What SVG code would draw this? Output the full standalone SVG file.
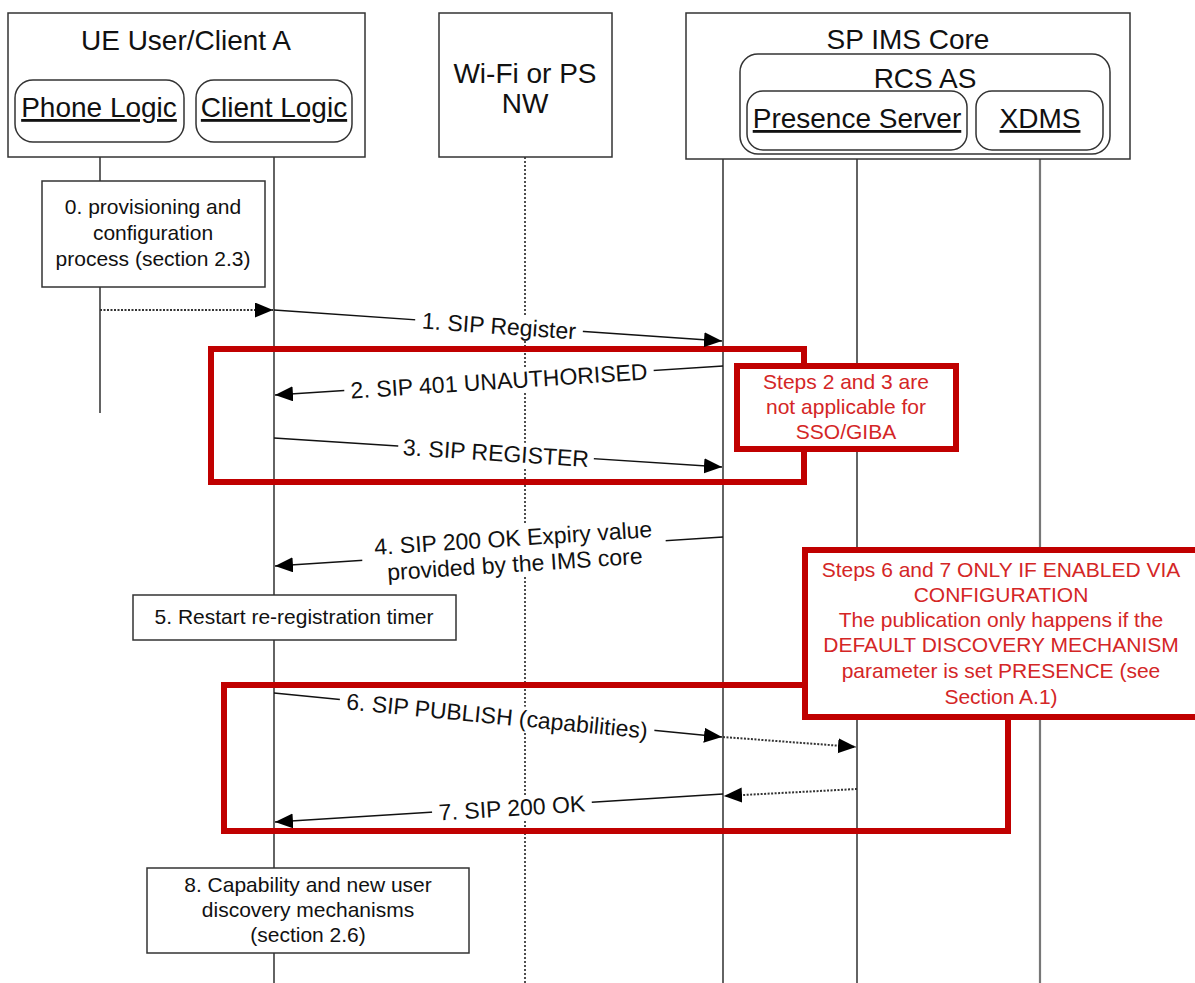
<svg xmlns="http://www.w3.org/2000/svg" width="1195" height="983" viewBox="0 0 1195 983">
<style>
text{font-family:"Liberation Sans",Arial,sans-serif;fill:#111;text-anchor:middle}
.hd{font-size:28px}
.ul{text-decoration:underline}
.lbl{font-size:23px}
.bx{font-size:21px}
.rt{font-size:21px;fill:#d42626}
.box{fill:#fff;stroke:#333;stroke-width:1.5}
.rbox{fill:#fff;stroke:#333;stroke-width:1.5}
.life{stroke:#222;stroke-width:1.4;fill:none}
.dot{stroke:#222;stroke-width:1.6;stroke-dasharray:2 2;fill:none}
.msg{stroke:#111;stroke-width:1.4;fill:none;marker-end:url(#ah)}
.dmsg{stroke:#333;stroke-width:2;stroke-dasharray:2 1.5;fill:none;marker-end:url(#ah)}
.frame{fill:none;stroke:#c00000;stroke-width:6}
.note{fill:#fff;stroke:#c00000;stroke-width:6}
.bg{fill:#fff}
</style>
<defs>
<marker id="ah" markerUnits="userSpaceOnUse" markerWidth="20" markerHeight="16" refX="18" refY="7.5" orient="auto">
<path d="M0,0 L18,7.5 L0,15 z" fill="#000"/>
</marker>
</defs>
<rect width="1195" height="983" fill="#fff"/>

<g id="lifelines">
<line class="life" x1="100" y1="142" x2="100" y2="413"/>
<line class="life" x1="274" y1="142" x2="274" y2="983"/>
<line class="dot" x1="525" y1="157" x2="525" y2="983"/>
<line class="life" x1="723" y1="159" x2="723" y2="983"/>
<line class="life" x1="857" y1="150" x2="857" y2="983"/>
<line x1="1040" y1="150" x2="1040" y2="983" stroke="#777" stroke-width="2.2"/>
</g>

<g id="ue">
<rect class="box" x="8" y="13" width="357" height="144"/>
<text class="hd" x="186" y="50">UE User/Client A</text>
<g id="phone-logic">
<rect class="rbox" x="15" y="80" width="169" height="62" rx="18"/>
<text class="hd ul" x="99" y="117">Phone Logic</text>
</g>
<g id="client-logic">
<rect class="rbox" x="196" y="80" width="156" height="62" rx="18"/>
<text class="hd ul" x="274" y="117">Client Logic</text>
</g>
</g>

<g id="wifi">
<rect class="box" x="439" y="13" width="173" height="144"/>
<text class="hd" x="525" y="83">Wi-Fi or PS</text>
<text class="hd" x="525" y="113">NW</text>
</g>

<g id="ims">
<rect class="box" x="686" y="13" width="444" height="146"/>
<text class="hd" x="908" y="49">SP IMS Core</text>
<g id="rcs-as">
<rect class="rbox" x="740" y="54" width="370" height="100" rx="18"/>
<text class="hd" x="925" y="88">RCS AS</text>
</g>
<g id="presence">
<rect class="rbox" x="747" y="91" width="220" height="59" rx="16"/>
<text class="hd ul" x="857" y="128">Presence Server</text>
</g>
<g id="xdms">
<rect class="rbox" x="976" y="91" width="127" height="59" rx="16"/>
<text class="hd ul" x="1040" y="128">XDMS</text>
</g>
</g>

<g id="step0">
<rect class="box" x="42" y="181" width="223" height="106"/>
<text class="bx" x="153" y="214">0. provisioning and</text>
<text class="bx" x="153" y="240">configuration</text>
<text class="bx" x="153" y="266">process (section 2.3)</text>
</g>

<g id="step5">
<rect class="box" x="133" y="595" width="323" height="45"/>
<text class="bx" x="294" y="624">5. Restart re-registration timer</text>
</g>

<g id="step8">
<rect class="box" x="147" y="868" width="322" height="85"/>
<text class="bx" x="308" y="892">8. Capability and new user</text>
<text class="bx" x="308" y="917">discovery mechanisms</text>
<text class="bx" x="308" y="942">(section 2.6)</text>
</g>

<g id="frames">
<rect class="frame" x="211" y="349" width="593" height="133"/>
<rect class="frame" x="224" y="685" width="784" height="146"/>
</g>

<g id="connectors">
<line class="dmsg" x1="100" y1="310" x2="273" y2="310"/>
<line class="msg" x1="274" y1="310" x2="722" y2="341"/>
<line class="msg" x1="723" y1="366" x2="275" y2="395"/>
<line class="msg" x1="274" y1="438" x2="722" y2="467"/>
<line class="msg" x1="723" y1="537" x2="275" y2="566"/>
<line class="msg" x1="274" y1="693" x2="722" y2="737"/>
<line class="dmsg" x1="723" y1="737" x2="856" y2="747"/>
<line class="dmsg" x1="857" y1="789" x2="724" y2="796"/>
<line class="msg" x1="723" y1="794" x2="275" y2="822"/>
</g>

<g id="labels">
<g transform="translate(499,326) rotate(4)"><rect class="bg" x="-84" y="-12" width="168" height="25"/><text class="lbl" y="8">1. SIP Register</text></g>
<g transform="translate(499,381) rotate(-3.7)"><rect class="bg" x="-155" y="-12" width="310" height="25"/><text class="lbl" y="8">2. SIP 401 UNAUTHORISED</text></g>
<g transform="translate(496,453) rotate(3.7)"><rect class="bg" x="-98" y="-12" width="196" height="25"/><text class="lbl" y="8">3. SIP REGISTER</text></g>
<g transform="translate(514,551) rotate(-3.7)"><rect class="bg" x="-152" y="-26" width="304" height="52"/><text class="lbl" y="-5">4. SIP 200 OK Expiry value</text><text class="lbl" y="21">provided by the IMS core</text></g>
<g transform="translate(497,716) rotate(5.6)"><rect class="bg" x="-158" y="-12" width="316" height="25"/><text class="lbl" y="8">6. SIP PUBLISH (capabilities)</text></g>
<g transform="translate(512,808) rotate(-3.6)"><rect class="bg" x="-80" y="-12" width="160" height="25"/><text class="lbl" y="8">7. SIP 200 OK</text></g>
</g>

<g id="note1">
<rect class="note" x="737" y="366" width="219" height="83"/>
<text class="rt" x="846" y="389">Steps 2 and 3 are</text>
<text class="rt" x="846" y="414">not applicable for</text>
<text class="rt" x="846" y="439">SSO/GIBA</text>
</g>

<g id="note2">
<rect class="note" x="805" y="550" width="400" height="167"/>
<text class="rt" x="1001" y="577">Steps 6 and 7 ONLY IF ENABLED VIA</text>
<text class="rt" x="1001" y="602">CONFIGURATION</text>
<text class="rt" x="1001" y="627">The publication only happens if the</text>
<text class="rt" x="1001" y="652">DEFAULT DISCOVERY MECHANISM</text>
<text class="rt" x="1001" y="678">parameter is set PRESENCE (see</text>
<text class="rt" x="1001" y="704">Section A.1)</text>
</g>
</svg>
